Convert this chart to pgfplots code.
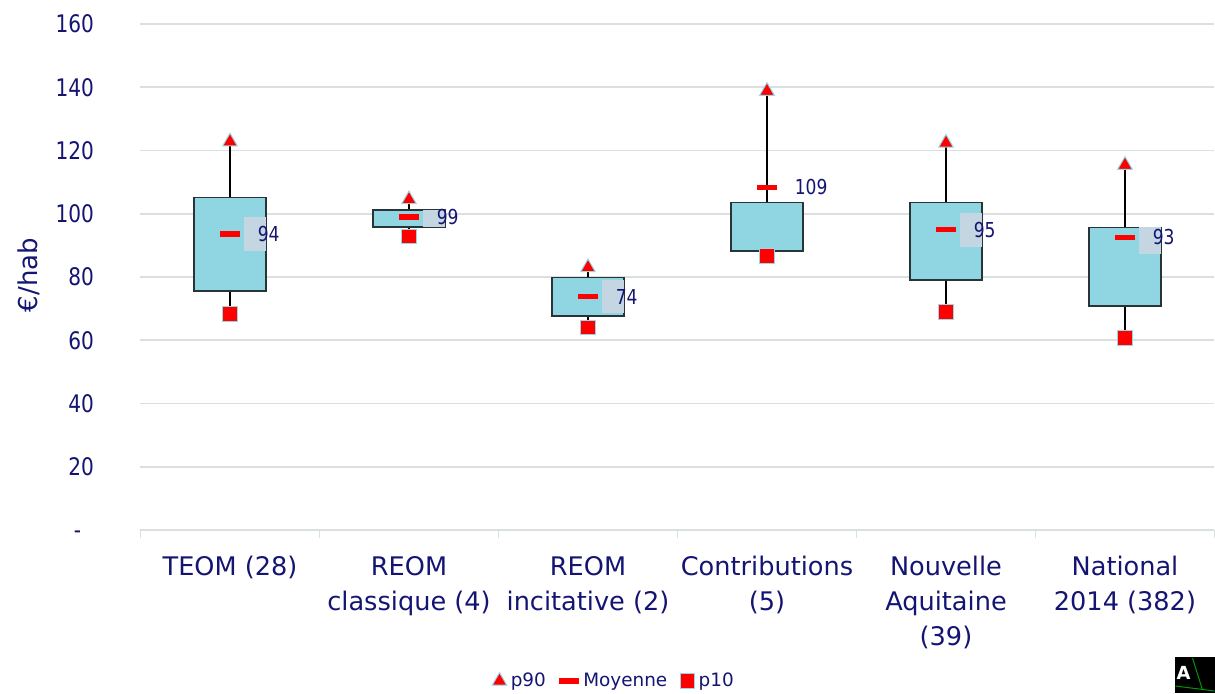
\documentclass[border=0pt]{standalone}
\usepackage{fontspec}
\setmainfont{DejaVu Sans}
\newfontfamily\narrowfont[FakeStretch=0.83]{DejaVu Sans}
\usepackage{pgfplots}
\pgfplotsset{compat=1.18}
\definecolor{navy}{RGB}{20,20,115}
\definecolor{boxfill}{RGB}{143,214,226}
\definecolor{boxedge}{RGB}{40,52,56}
\definecolor{gridc}{RGB}{218,224,224}
\definecolor{labelbg}{RGB}{196,214,225}
\definecolor{mkred}{RGB}{255,0,0}
\definecolor{mkedge}{RGB}{150,215,228}

\pgfplotstableread{
x p90
0 122.8
1 104.5
2 83.0
3 138.8
4 122.4
5 115.4
}\pninety
\pgfplotstableread{
x mean lab
0 93.6 94
1 99.0 99
2 73.8 74
3 108.4 109
4 94.9 95
5 92.6 93
}\moyenne
\pgfplotstableread{
x p10
0 68.3
1 92.8
2 64.0
3 86.6
4 68.9
5 60.7
}\pdix

\begin{document}
\begin{tikzpicture}
\useasboundingbox (-70.25pt,-81.5pt) rectangle (537.25pt,265pt);
\begin{axis}[
  at={(0,0)}, anchor=south west,
  scale only axis, width=537pt, height=253pt,
  xmin=-0.5, xmax=5.5, ymin=0, ymax=160,
  axis x line*=bottom, axis y line*=left,
  x axis line style={gridc, line width=0.9pt},
  y axis line style={draw=none},
  ytick={0,20,40,60,80,100,120,140,160},
  yticklabels={{-\phantom{0}},20,40,60,80,100,120,140,160},
  yticklabel style={font=\narrowfont\fontsize{12.1}{14}\selectfont, text=navy, xshift=-19.75pt},
  ymajorgrids, grid style={gridc, line width=0.9pt},
  xtick={0,1,2,3,4,5},
  xticklabels={{TEOM (28)},{REOM\\classique (4)},{REOM\\incitative (2)},{Contributions\\(5)},{Nouvelle\\Aquitaine\\(39)},{National\\2014 (382)}},
  xticklabel style={align=center, font=\fontsize{12.8}{17.5}\selectfont, text=navy, yshift=-9.5pt},
  minor xtick={-0.5,0.5,1.5,2.5,3.5,4.5,5.5},
  tick align=outside, major tick length=0pt, minor tick length=4pt,
  minor x tick style={gridc, line width=0.9pt},
  major tick style={draw=none},
  ylabel={€/hab},
  ylabel style={at={(axis description cs:-0.1038,0.504)}, anchor=center, font=\fontsize{13}{15}\selectfont, text=navy},
  legend style={at={(axis description cs:0.4418,-0.2984)}, anchor=center, draw=none, fill=none,
    legend columns=3, font=\fontsize{9.2}{11}\selectfont, text=navy,
    /tikz/every even column/.append style={column sep=4.5pt}},
  legend image code/.code={\draw[mark repeat=2,mark phase=2,#1] plot coordinates {(0cm,0cm) (0.12cm,0cm) (0.24cm,0cm)};},
  clip=false,
  wh/.style={forget plot, draw=black, line width=0.7pt, mark=none},
  bx/.style={forget plot, draw=boxedge, fill=boxfill, line width=0.8pt, mark=none},
  lb/.style={forget plot, fill=labelbg, draw=none, mark=none},
]
% whiskers
\addplot[wh] coordinates {(0,68.3) (0,122.8)};
\addplot[wh] coordinates {(1,92.8) (1,104.5)};
\addplot[wh] coordinates {(2,64.0) (2,83.0)};
\addplot[wh] coordinates {(3,86.6) (3,138.8)};
\addplot[wh] coordinates {(4,68.9) (4,122.4)};
\addplot[wh] coordinates {(5,60.7) (5,115.4)};
% boxes (quartiles)
\addplot[bx] coordinates {(-0.2,75.6) (0.2,75.6) (0.2,105.2) (-0.2,105.2)} -- cycle;
\addplot[bx] coordinates {(0.8,95.9) (1.2,95.9) (1.2,101.1) (0.8,101.1)} -- cycle;
\addplot[bx] coordinates {(1.8,67.7) (2.2,67.7) (2.2,79.9) (1.8,79.9)} -- cycle;
\addplot[bx] coordinates {(2.8,88.3) (3.2,88.3) (3.2,103.6) (2.8,103.6)} -- cycle;
\addplot[bx] coordinates {(3.8,79.1) (4.2,79.1) (4.2,103.6) (3.8,103.6)} -- cycle;
\addplot[bx] coordinates {(4.8,70.8) (5.2,70.8) (5.2,95.7) (4.8,95.7)} -- cycle;
% label backgrounds (inside the boxes)
\addplot[lb] coordinates {(0.076,88.3) (0.2,88.3) (0.2,98.9) (0.076,98.9)} -- cycle;
\addplot[lb] coordinates {(1.076,95.9) (1.2,95.9) (1.2,101.1) (1.076,101.1)} -- cycle;
\addplot[lb] coordinates {(2.076,68.5) (2.2,68.5) (2.2,79.1) (2.076,79.1)} -- cycle;
\addplot[lb] coordinates {(4.076,89.6) (4.2,89.6) (4.2,100.2) (4.076,100.2)} -- cycle;
\addplot[lb] coordinates {(5.076,87.3) (5.2,87.3) (5.2,95.7) (5.076,95.7)} -- cycle;
% markers
\addplot[only marks, mark=triangle*, mark size=4.2pt, mark options={fill=mkred, draw=mkedge, line width=0.5pt}] table[x=x, y=p90] {\pninety};
\addplot[only marks, mark=-, mark size=5.1pt, mark options={draw=mkred, line width=2.6pt},
  nodes near coords={\narrowfont\fontsize{10.3}{12}\selectfont\pgfplotspointmeta},
  point meta=explicit symbolic,
  nodes near coords style={anchor=west, inner sep=0pt, text=navy, xshift=12.6pt}] table[x=x, y=mean, meta=lab] {\moyenne};
\addplot[only marks, mark=square*, mark size=3.6pt, mark options={fill=mkred, draw=mkedge, line width=0.5pt}] table[x=x, y=p10] {\pdix};
\legend{p90,Moyenne,p10}
\end{axis}
% logo
\fill[black] (517.25pt,-81.5pt) rectangle (537.25pt,-63.5pt);
\node[text=white, font=\bfseries\fontsize{9}{10}\selectfont, inner sep=0pt] at (521.5pt,-71.5pt) {A};
\draw[green!60!black, line width=0.5pt] (526pt,-64pt) -- (531pt,-80pt);
\draw[green!60!black, line width=0.5pt] (517.5pt,-78pt) -- (537pt,-80.5pt);
\end{tikzpicture}
\end{document}
